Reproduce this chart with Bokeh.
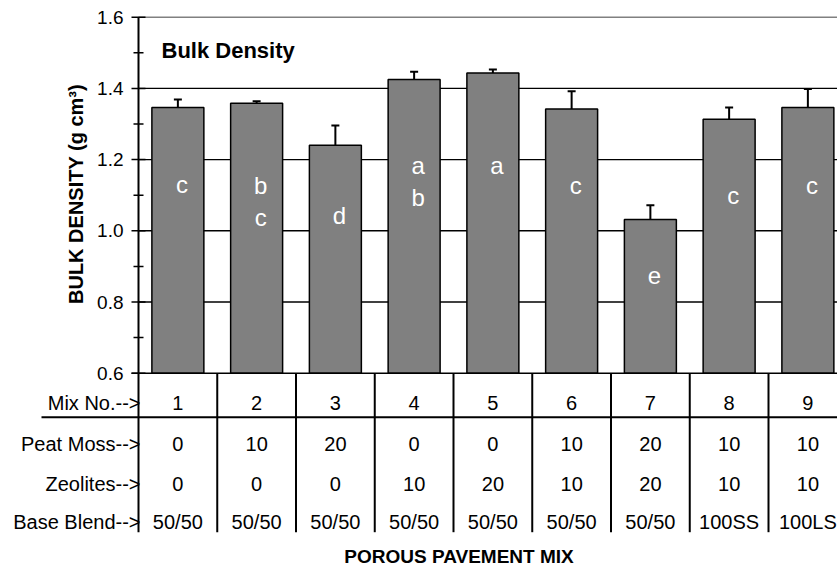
import numpy as np
from bokeh.plotting import figure
from bokeh.models import ColumnDataSource, Range1d, Whisker, TeeHead
from bokeh.core.properties import value
from bokeh.embed import file_html
from bokeh.resources import INLINE

# ---------------- data ----------------
mix_no = ["1", "2", "3", "4", "5", "6", "7", "8", "9"]
peat_moss = ["0", "10", "20", "0", "0", "10", "20", "10", "10"]
zeolites = ["0", "0", "0", "10", "20", "10", "20", "10", "10"]
base_blend = ["50/50", "50/50", "50/50", "50/50", "50/50", "50/50", "50/50", "100SS", "100LS"]
bulk_density = [1.346, 1.358, 1.240, 1.425, 1.443, 1.342, 1.032, 1.313, 1.346]
std_error = [0.023, 0.006, 0.056, 0.022, 0.010, 0.050, 0.040, 0.033, 0.052]
letters = ["c", "b\nc", "d", "a\nb", "a", "c", "e", "c", "c"]
letter_level = [1.130, 1.128, 1.044, 1.184, 1.184, 1.128, 0.875, 1.100, 1.128]
y_major = [0.6, 0.8, 1.0, 1.2, 1.4, 1.6]
y_minor = [0.7, 0.9, 1.1, 1.3, 1.5]
y_tick_labels = ["0.6", "0.8", "1.0", "1.2", "1.4", "1.6"]
row_labels = ["Mix No.-->", "Peat Moss-->", "Zeolites-->", "Base Blend-->"]
chart_title = "Bulk Density"
y_title = "BULK DENSITY (g cm\u00b3)"
x_title = "POROUS PAVEMENT MIX"

# ---------------- layout helpers (figure pixels) ----------------
W, H = 837, 569
X0_PX = 138.0      # where x = 0 (the value axis) sits
PX_X = 78.75       # pixels per category
Y_TOP_PX = 16.7    # where y = 1.6 sits
PX_Y = 356.0       # pixels per unit of bulk density


def fx(px):
    return (px - X0_PX) / PX_X


def fy(py):
    return 1.6 - (py - Y_TOP_PX) / PX_Y


FONT = value("Liberation Sans")

p = figure(width=W, height=H, output_backend="svg", toolbar_location=None,
           x_range=Range1d(fx(0), fx(W)), y_range=Range1d(fy(H), fy(0)),
           x_axis_type=None, y_axis_type=None,
           min_border=0, min_border_left=0, min_border_right=0,
           min_border_top=0, min_border_bottom=0)
p.outline_line_color = None
p.xgrid.visible = False
p.ygrid.visible = False
p.background_fill_color = "white"
p.border_fill_color = "white"

n = len(mix_no)
xc = [i + 0.5 for i in range(n)]
x_end = fx(W) + 1

# gridlines
grid_vals = [v for v in y_major if 0.6 < v < 1.6]
p.segment(x0=[0] * len(grid_vals), x1=[x_end] * len(grid_vals), y0=grid_vals, y1=grid_vals,
          line_color="black", line_width=1.4)
p.segment(x0=[0], x1=[x_end], y0=[y_major[-1]], y1=[y_major[-1]], line_color="#808080", line_width=1.5)

# bars
src = ColumnDataSource(dict(x=xc, top=bulk_density,
                            upper=[b + e for b, e in zip(bulk_density, std_error)]))
p.vbar(x="x", top="top", bottom=0.6, width=0.66, source=src,
       fill_color="#808080", line_color="black", line_width=1.5)

# baseline
p.segment(x0=[fx(X0_PX - 7)], x1=[x_end], y0=[0.6], y1=[0.6], line_color="black", line_width=1.6)

# error bars
wh = Whisker(base="x", lower="top", upper="upper", source=src, dimension="height",
             line_color="black", line_width=2,
             upper_head=TeeHead(size=8, line_color="black", line_width=2), lower_head=None)
p.add_layout(wh)

# letters inside bars
lx, ly, lt = [], [], []
for i, (s, lv) in enumerate(zip(letters, letter_level)):
    for k, part in enumerate(s.split("\n")):
        lx.append(xc[i])
        ly.append(lv - k * 32 / PX_Y)
        lt.append(part)
p.text(x=lx, y=ly, text=lt, x_offset=4, text_font=FONT, text_font_size="24px",
       text_color="white", text_align="center", text_baseline="middle")

# value axis line, ticks and labels
table_bottom = fy(531.7)
p.segment(x0=[0], x1=[0], y0=[table_bottom], y1=[1.6], line_color="black", line_width=2)
p.segment(x0=[fx(X0_PX - 7)] * len(y_major), x1=[fx(X0_PX + 7)] * len(y_major),
          y0=y_major, y1=y_major, line_color="black", line_width=1.5)
p.segment(x0=[fx(X0_PX - 5)] * len(y_minor), x1=[fx(X0_PX + 5)] * len(y_minor),
          y0=y_minor, y1=y_minor, line_color="black", line_width=1.5)
p.text(x=[fx(123)] * len(y_major), y=y_major, text=y_tick_labels, text_font=FONT,
       text_font_size="19px", text_color="black", text_align="right", text_baseline="middle")

# table under the chart
seps = list(range(1, n + 1))
p.segment(x0=seps, x1=seps, y0=[0.6] * len(seps), y1=[table_bottom] * len(seps),
          line_color="black", line_width=2)
mix_line_y = fy(416.7)
p.segment(x0=[fx(41)], x1=[x_end], y0=[mix_line_y], y1=[mix_line_y], line_color="black", line_width=2)

row_mid = [fy(402.7), fy(443.3), fy(483.3), fy(521.7)]
rows = [mix_no, peat_moss, zeolites, base_blend]
for rm, row in zip(row_mid, rows):
    p.text(x=xc, y=[rm] * n, text=row, text_font=FONT, text_font_size="20px",
           text_color="black", text_align="center", text_baseline="middle")
p.text(x=[fx(140)] * len(row_labels), y=row_mid, text=row_labels, text_font=FONT,
       text_font_size="20px", text_color="black", text_align="right", text_baseline="middle")

# titles
p.text(x=[fx(161)], y=[fy(49.5)], text=[chart_title], text_font=FONT, text_font_size="22px",
       text_font_style="bold", text_color="black", text_align="left", text_baseline="middle")
p.text(x=[fx(75)], y=[fy(193.5)], text=[y_title], angle=np.pi / 2, text_font=FONT,
       text_font_size="20px", text_font_style="bold", text_color="black",
       text_align="center", text_baseline="middle")
p.text(x=[fx(458.5)], y=[fy(556)], text=[x_title], text_font=FONT, text_font_size="19px",
       text_font_style="bold", text_color="black", text_align="center", text_baseline="middle")

open("out.html", "w").write(file_html(p, INLINE))
